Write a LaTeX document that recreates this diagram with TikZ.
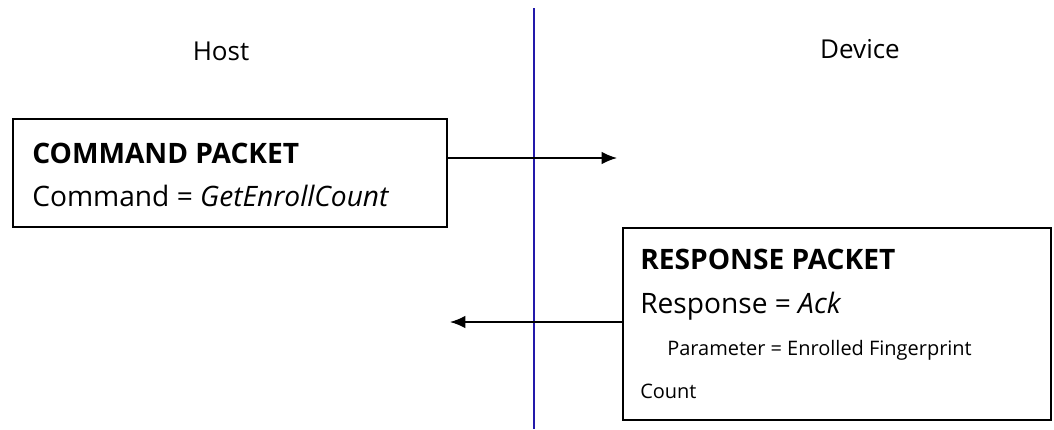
\documentclass[tikz,border=0pt]{standalone}
\usepackage{fontspec}
\setmainfont{Open Sans}
\usetikzlibrary{positioning,arrows.meta}
\definecolor{divblue}{RGB}{35,25,170}

\begin{document}
\begin{tikzpicture}[x=0.025cm,y=-0.025cm,
	packet/.style={draw, line width=1.1pt, anchor=north west, inner sep=0pt},
	msg/.style={-{Latex[length=11pt,width=9pt]}, line width=1.1pt},
	side/.style={font=\fontsize{18.5}{21}\selectfont, anchor=base},
	head/.style={font=\fontsize{20}{24}\selectfont\bfseries, anchor=base west, inner sep=0pt},
	line/.style={font=\fontsize{20}{24}\selectfont, anchor=base west, inner sep=0pt},
	small/.style={font=\fontsize{14.2}{16}\selectfont, anchor=base west, inner sep=0pt}]
	\useasboundingbox (0,0) rectangle (1054,429);
	% host / device split
	\coordinate (top) at (534,8);
	\coordinate (bottom) at (534,429);
	\draw[divblue, line width=1.7pt] (top) -- (bottom);
	\node[side] (host) at (221,60) {Host};
	\node[side] (device) at (860,58) {Device};
	% command packet
	\node[packet, minimum width=10.85cm, minimum height=2.7cm] (cmd) at (12,118) {};
	\node[head] (cmdhead) at (32,163) {COMMAND PACKET};
	\node[line] (cmdline) at (32,206) {Command = \textit{GetEnrollCount}};
	% response packet
	\node[packet, minimum width=10.7cm, minimum height=4.8cm] (rsp) at (622,227) {};
	\node[head] (rsphead) at (640,269) {RESPONSE PACKET};
	\node[line] (rspline) at (640,313) {Response = \textit{Ack}};
	\node[small] (rspparam) at (667,355) {Parameter = Enrolled Fingerprint};
	\node[small] (rspcount) at (640,398) {Count};
	% messages
	\coordinate (cmdend) at (617,158);
	\coordinate (rspend) at (450,322);
	\draw[msg] (cmd.east |- cmdend) -- (cmdend);
	\draw[msg] (rsp.west |- rspend) -- (rspend);
\end{tikzpicture}
\end{document}
